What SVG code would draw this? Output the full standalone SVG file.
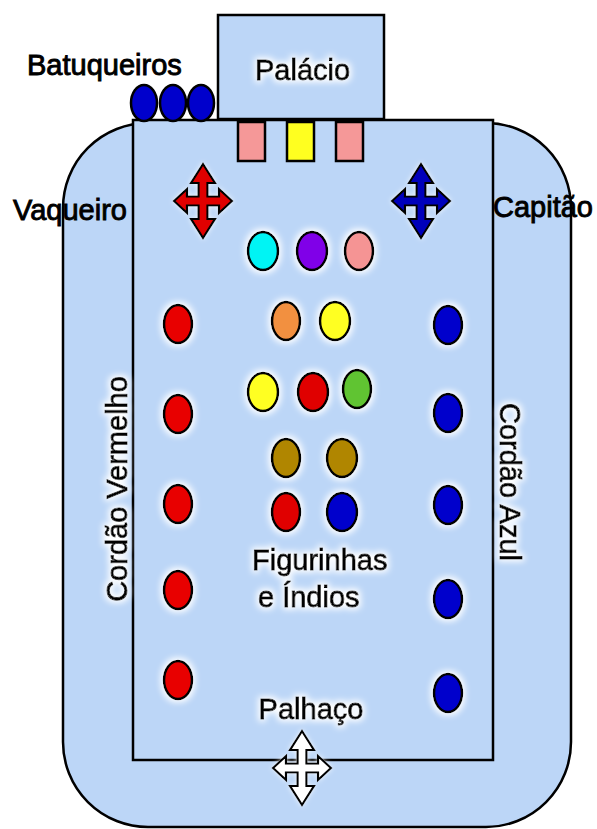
<svg xmlns="http://www.w3.org/2000/svg" width="597" height="829" viewBox="0 0 597 829">
<defs>
<filter id="glow" x="-40%" y="-40%" width="180%" height="180%">
<feMorphology in="SourceAlpha" operator="dilate" radius="2" result="d"/>
<feGaussianBlur in="d" stdDeviation="3" result="b"/>
<feFlood flood-color="#ffffff"/>
<feComposite in2="b" operator="in" result="g"/>
<feMerge><feMergeNode in="g"/><feMergeNode in="SourceGraphic"/></feMerge>
</filter>
<filter id="glow2" x="-40%" y="-40%" width="180%" height="180%">
<feGaussianBlur in="SourceAlpha" stdDeviation="2.5" result="b"/>
<feFlood flood-color="#ffffff" flood-opacity="0.8"/>
<feComposite in2="b" operator="in" result="g"/>
<feMerge><feMergeNode in="g"/><feMergeNode in="SourceGraphic"/></feMerge>
</filter>
<path id="cross" d="M0,-37 L12,-18 L4.5,-18 L4.5,-4.5 L16,-4.5 L16,-12 L29,0 L16,12 L16,4.5 L4.5,4.5 L4.5,18 L12,18 L0,37 L-12,18 L-4.5,18 L-4.5,4.5 L-16,4.5 L-16,12 L-29,0 L-16,-12 L-16,-4.5 L-4.5,-4.5 L-4.5,-18 L-12,-18 Z"/>
</defs>
<style>
.area{fill:#bcd6f7;stroke:#000;stroke-width:2.5}
.lbl{font-family:"Liberation Sans",Arial,sans-serif;font-size:29px;fill:#000;stroke:#000;stroke-width:0.9}
.dot{stroke:#000;stroke-width:2.5}
.red{fill:#e80000}
.blue{fill:#0000cc}
.sq{stroke:#000;stroke-width:2.5}
.x{stroke:#000;stroke-width:2.2;stroke-linejoin:miter}
</style>
<g id="outer"><rect class="area" x="63" y="123" width="508" height="704" rx="85" ry="85"/></g>
<g id="inner"><rect class="area" x="133" y="120" width="360" height="640"/></g>
<g id="palacio"><rect class="area" x="218" y="15" width="166" height="104"/>
<text class="lbl" x="255" y="80" filter="url(#glow)">Palácio</text></g>
<g id="tronos">
<rect class="sq" x="238" y="122" width="27" height="39" fill="#f59898"/>
<rect class="sq" x="287" y="122" width="27" height="39" fill="#ffff20"/>
<rect class="sq" x="336" y="122" width="27" height="39" fill="#f59898"/>
</g>
<g id="batuqueiros">
<ellipse class="dot blue" cx="144" cy="103" rx="13" ry="18"/>
<ellipse class="dot blue" cx="173" cy="103" rx="13" ry="18"/>
<ellipse class="dot blue" cx="201" cy="103" rx="13" ry="18"/>
<text class="lbl" x="27" y="75">Batuqueiros</text>
</g>
<g id="vaqueiro">
<use href="#cross" x="203" y="201" class="x" fill="#e00000" filter="url(#glow2)"/>
<text class="lbl" x="13" y="220">Vaqueiro</text>
</g>
<g id="capitao">
<use href="#cross" x="421" y="201" class="x" fill="#0000bb" filter="url(#glow2)"/>
<text class="lbl" x="493" y="217">Capitão</text>
</g>
<g id="figurinhas" filter="url(#glow)">
<ellipse class="dot" cx="263" cy="251" rx="15" ry="19" fill="#00f4f4"/>
<ellipse class="dot" cx="312" cy="251" rx="15" ry="19" fill="#8000e8"/>
<ellipse class="dot" cx="359" cy="251" rx="14" ry="19" fill="#f59494"/>
<ellipse class="dot" cx="286" cy="321" rx="14" ry="19" fill="#f29040"/>
<ellipse class="dot" cx="335" cy="321" rx="15" ry="19" fill="#ffff20"/>
<ellipse class="dot" cx="263" cy="392" rx="15" ry="19" fill="#ffff20"/>
<ellipse class="dot" cx="313" cy="392" rx="15" ry="19" fill="#e00000"/>
<ellipse class="dot" cx="357" cy="389" rx="14" ry="19" fill="#60c430"/>
<ellipse class="dot" cx="286" cy="458" rx="14" ry="19" fill="#b08600"/>
<ellipse class="dot" cx="342" cy="458" rx="15" ry="19" fill="#b08600"/>
<ellipse class="dot" cx="286" cy="512" rx="14" ry="19" fill="#e00000"/>
<ellipse class="dot" cx="342" cy="512" rx="15" ry="19" fill="#0000cc"/>
<text class="lbl" x="252" y="570">Figurinhas</text>
<text class="lbl" x="258" y="607">e Índios</text>
</g>
<g id="cordao-vermelho" filter="url(#glow)">
<ellipse class="dot red" cx="178" cy="324" rx="14" ry="19"/>
<ellipse class="dot red" cx="178" cy="414" rx="14" ry="19"/>
<ellipse class="dot red" cx="178" cy="504" rx="14" ry="19"/>
<ellipse class="dot red" cx="178" cy="590" rx="14" ry="19"/>
<ellipse class="dot red" cx="178" cy="680" rx="14" ry="19"/>
<text class="lbl" transform="translate(127,489) rotate(-90)" text-anchor="middle">Cordão Vermelho</text>
</g>
<g id="cordao-azul" filter="url(#glow)">
<ellipse class="dot blue" cx="448" cy="325" rx="14" ry="19"/>
<ellipse class="dot blue" cx="448" cy="413" rx="14" ry="19"/>
<ellipse class="dot blue" cx="448" cy="505" rx="14" ry="19"/>
<ellipse class="dot blue" cx="448" cy="599" rx="14" ry="19"/>
<ellipse class="dot blue" cx="448" cy="693" rx="14" ry="19"/>
<text class="lbl" transform="translate(500,482) rotate(90)" text-anchor="middle">Cordão Azul</text>
</g>
<g id="palhaco">
<text class="lbl" x="311" y="719" text-anchor="middle" filter="url(#glow)">Palhaço</text>
<use href="#cross" x="302" y="768" class="x" fill="#ffffff" filter="url(#glow2)"/>
</g>
</svg>
